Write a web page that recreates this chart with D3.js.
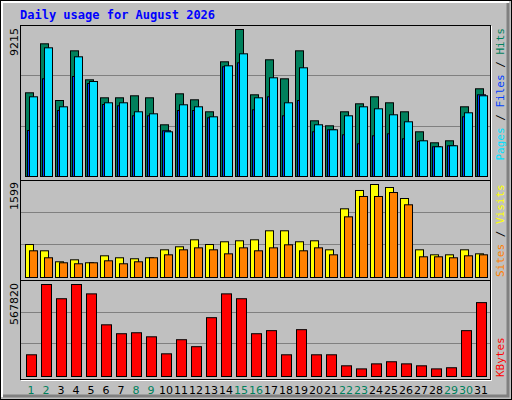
<!DOCTYPE html>
<html><head><meta charset="utf-8">
<script src="https://cdn.jsdelivr.net/npm/d3@7"></script>
<style>body{margin:0;background:#fff}</style>
</head><body>
<svg id="chart" width="512" height="400"></svg>
<script>
const days = d3.range(1, 32);
const weekends = [1, 2, 8, 9, 15, 16, 22, 23, 29, 30];
const hits = [5247,8318,4764,7878,6061,4933,4933,5059,4933,3241,5184,4808,4056,7190,9215,5121,7316,6124,7878,3492,3178,4056,4557,4996,4620,4056,2802,2113,2238,4369,5498];
const files = [4996,8067,4369,7503,5955,4620,4620,4056,3930,2802,4495,4369,3742,6939,7691,4933,6187,4620,6814,3241,2927,3805,4369,4244,3868,3429,2238,1862,1925,3993,5059];
const pages = [2884,6124,4137,6269,5830,4513,4432,3805,3805,2865,4137,4137,3680,6877,7127,4181,4996,3805,4764,2802,2927,2614,2050,2551,2677,2363,2200,1862,1925,3742,5121];
const visits = [567,459,270,304,253,373,339,322,339,476,528,648,567,614,631,648,803,803,614,631,476,1181,1496,1599,1547,1358,476,390,390,476,407];
const sites = [459,339,253,236,253,287,236,270,339,390,476,510,476,407,510,459,510,562,459,510,390,1043,1393,1393,1461,1250,356,356,339,373,390];
const kbytes = [134000,567820,480000,567820,510000,319000,264000,270000,245000,140000,227000,184000,363000,510000,480000,264000,283000,134000,289000,134000,134000,66000,47000,78000,91000,78000,66000,47000,54000,283000,456000];

const svg = d3.select('#chart');
const mono = 'DejaVu Sans Mono';

// frame
svg.append('rect').attr('x',0.5).attr('y',0.5).attr('width',511).attr('height',399).attr('fill','#c0c0c0').attr('stroke','#000');
svg.append('path').attr('d','M2,397V2H509').attr('fill','none').attr('stroke','#fff').attr('stroke-width',2);
svg.append('path').attr('d','M3,396H508V3').attr('fill','none').attr('stroke','#808080').attr('stroke-width',3);

svg.append('text').attr('x',20).attr('y',19).attr('fill','#0000ff')
	.style('font', 'bold 12px "' + mono + '"').text('Daily usage for August 2026');

let x = d3.scaleBand().domain(days).range([25, 490]).paddingInner(0);
// band = 15px, first bar at 25
x = d3.scaleLinear().domain([1, 32]).range([25, 490]);

function panel(top, bottom) {
	svg.append('rect').attr('x',20.5).attr('y',top+0.5).attr('width',470).attr('height',bottom-top)
		.attr('fill','#c0c0c0').attr('stroke','#000');
	svg.append('path').attr('d',`M21,${bottom+1.5}H491.5V${top+1}`).attr('fill','none').attr('stroke','#fff');
	const h = bottom - 4 - top;
	[1, 2].forEach(k => {
		const gy = Math.round(bottom - 4 - h * k / 3) + 0.5;
		svg.append('line').attr('x1',21).attr('x2',490).attr('y1',gy).attr('y2',gy).attr('stroke','#808080');
	});
}
panel(25, 180);
panel(180, 280);
panel(280, 379);

function bars(data, y, off, w, color) {
	svg.append('g').selectAll('rect').data(data).enter().append('rect')
		.attr('x', (d, i) => x(days[i]) + off + 0.5)
		.attr('y', d => y(d) + 0.5)
		.attr('width', w)
		.attr('height', d => y(0) - y(d))
		.attr('fill', color).attr('stroke', '#000');
}

const y1 = d3.scaleLinear().domain([0, 9215]).range([176, 29]);
bars(hits, y1, 0, 8, '#00805c');
bars(pages, y1, 2, 8, '#0040ff');
bars(files, y1, 4, 8, '#00e0ff');

const y2 = d3.scaleLinear().domain([0, 1599]).range([277, 184]);
bars(visits, y2, 0, 8, '#ffff00');
bars(sites, y2, 4, 8, '#ff8000');

const y3 = d3.scaleLinear().domain([0, 567820]).range([376, 284]);
bars(kbytes, y3, 1, 10, '#ff0000');

// day labels
svg.append('g').selectAll('text').data(days).enter().append('text')
	.attr('x', d => x(d) + 6).attr('y', 394).attr('text-anchor','middle')
	.attr('fill', d => weekends.includes(d) ? '#00805c' : '#000')
	.style('font', '11px "DejaVu Sans"').text(d => d);

// left max labels
[[28, '9215'], [182, '1599'], [283, '567820']].forEach(([ty, t]) => {
	svg.append('text').attr('transform', `translate(18,${ty}) rotate(-90)`)
		.attr('text-anchor','end').attr('fill','#000')
		.style('font', '11px "DejaVu Sans"').text(t);
});

// right legends
function legend(yy, anchor, parts) {
	const t = svg.append('text').attr('transform', `translate(504,${yy}) rotate(-90)`)
		.attr('text-anchor', anchor).style('font', '11px "' + mono + '"');
	parts.forEach(([s, c]) => t.append('tspan').attr('fill', c).text(s));
}
legend(28, 'end', [['Pages','#00e0ff'],[' / ','#000'],['Files','#0040ff'],[' / ','#000'],['Hits','#00805c']]);
legend(277, 'start', [['Sites','#ff8000'],[' / ','#000'],['Visits','#ffff00']]);
legend(377, 'start', [['KBytes','#ff0000']]);
</script>
</body></html>
